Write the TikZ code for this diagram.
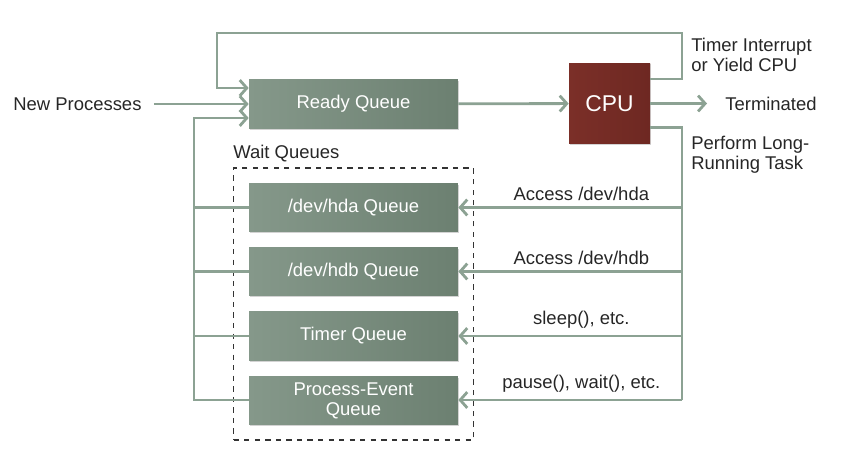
\documentclass[tikz,border=0pt]{standalone}
\usepackage{fontspec}
\setmainfont{Liberation Sans}
\usepackage{tikz}
\usetikzlibrary{arrows.meta,shadows,fit}
\definecolor{linec}{HTML}{8CA293}
\definecolor{qleft}{HTML}{85988A}
\definecolor{qright}{HTML}{6C8071}
\definecolor{cpuleft}{HTML}{7B2F28}
\definecolor{cpuright}{HTML}{6E2822}
\tikzset{
  flow/.style={draw=linec, line width=1.6pt},
  tip/.style={-{Straight Barb[length=4pt,width=9pt]}},
  queue/.style={rectangle, minimum width=4.18cm, minimum height=0.97cm, inner sep=0pt,
    left color=qleft, right color=qright, text=white, align=center,
    drop shadow={opacity=0.35, shadow xshift=0.6pt, shadow yshift=-0.8pt}},
  proc/.style={rectangle, minimum size=1.62cm, inner sep=0pt,
    left color=cpuleft, right color=cpuright, text=white, font=\fontsize{13pt}{15pt}\selectfont,
    drop shadow={opacity=0.35, shadow xshift=0.6pt, shadow yshift=-0.8pt}},
  lbl/.style={text=black!85, align=left},
}

\begin{document}
\begin{tikzpicture}[x=0.02cm, y=-0.02cm, font=\fontsize{10.5pt}{11.5pt}\selectfont]
\useasboundingbox (0,0) rectangle (857,459);
\node[queue] (ready) at (353.5,104) {Ready Queue};
\node[proc] (cpu) at (609.5,103.5) {CPU};
\node[queue] (hda) at (353.5,207.5) {/dev/hda Queue};
\node[queue] (hdb) at (353.5,271.5) {/dev/hdb Queue};
\node[queue] (timer) at (353.5,336) {Timer Queue};
\node[queue] (event) at (353.5,400.5) {Process-Event\\Queue};
\node[draw=black!80, dashed, thick, inner sep=0.3cm, fit=(hda)(event)] (wait) {};
\node[lbl, anchor=south west, inner sep=0pt] (waitlbl) at ([yshift=0.1cm]wait.north west) {Wait Queues};
\node[lbl, anchor=west, inner sep=0pt] (new) at (13,104) {New Processes};
\node[lbl, anchor=west, inner sep=0pt] (term) at (725,103.5) {Terminated};
\node[lbl, anchor=west, inner sep=0pt] (yield) at (691,55) {Timer Interrupt\\or Yield CPU};
\node[lbl, anchor=west, inner sep=0pt] (long) at (691,155) {Perform Long-\\Running Task};
\coordinate (top) at (682,33);
\coordinate (right) at (682,400);
\coordinate (left) at (194,400);

\draw[flow, tip] ([xshift=0.24cm]new.east) -- (ready.west);
\draw[flow, tip] (ready) -- (cpu);
\draw[flow, tip] (cpu) -- ([xshift=-0.36cm]term.west);
\draw[flow, tip] ([yshift=0.49cm]cpu.east) -| (top) -| (217,60) |- ([yshift=0.32cm]ready.west);
\draw[flow] ([yshift=-0.48cm]cpu.east) -| (right);
\draw[flow, tip] (right |- hda.east) -- node[lbl, pos=0.45, above] {Access /dev/hda} (hda.east);
\draw[flow, tip] (right |- hdb.east) -- node[lbl, pos=0.45, above] {Access /dev/hdb} (hdb.east);
\draw[flow, tip] (right |- timer.east) -- node[lbl, pos=0.45, above] {sleep(), etc.} (timer.east);
\draw[flow, tip] (right) -- node[lbl, pos=0.45, above] {pause(), wait(), etc.} (right -| event.east);
\foreach \q in {hda,hdb,timer} \draw[flow] (\q.west) -- (left |- \q.west);
\draw[flow, tip] (left -| event.west) -- (left) |- ([yshift=-0.28cm]ready.west);
\end{tikzpicture}
\end{document}
